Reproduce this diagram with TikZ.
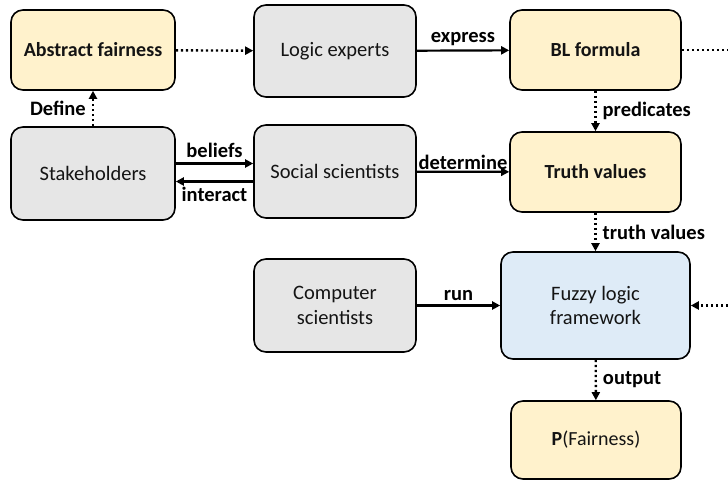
\documentclass[tikz,border=0pt]{standalone}
\usepackage{fontspec}
\setmainfont{Carlito}
\usetikzlibrary{arrows.meta}
\definecolor{conceptyellow}{HTML}{FFF2CC}
\definecolor{actorgray}{HTML}{E6E6E6}
\definecolor{engineblue}{HTML}{DEEBF7}

\begin{document}
\begin{tikzpicture}[
    x=1pt, y=-1pt,
    >={Triangle[length=8pt,width=8pt]},
    box/.style={draw, line width=1.6pt, rounded corners=12pt, align=center, text=black!92, font=\fontsize{20.5}{24.5}\selectfont, inner sep=2pt},
    actor/.style={box, fill=actorgray},
    concept/.style={box, fill=conceptyellow, font=\fontsize{20}{24}\selectfont\bfseries},
    flow/.style={->, line width=2.2pt},
    hint/.style={->, line width=2.4pt, dash pattern=on 2.4pt off 2.6pt},
    hintline/.style={line width=2.4pt, dash pattern=on 2.4pt off 2.6pt},
    lbl/.style={font=\fontsize{20.5}{24.5}\selectfont\bfseries, inner sep=3pt}
  ]
    \useasboundingbox (0,0) rectangle (728,480);

    % Column 1: Fairness definition
    \node[concept, minimum width=164pt, minimum height=80pt] (abs) at (93, 50) {Abstract fairness};
    \node[actor, minimum width=164pt, minimum height=93pt] (stake) at (93, 173.5) {Stakeholders};

    % Column 2: Experts
    \node[actor, minimum width=162pt, minimum height=92pt] (logic) at (335, 51) {Logic experts};
    \node[actor, minimum width=162pt, minimum height=93pt] (social) at (335, 171.5) {Social scientists};
    \node[actor, minimum width=162pt, minimum height=93pt] (comp) at (335, 305.5) {Computer\\scientists};

    % Column 3: Formula and evaluation
    \node[concept, minimum width=171pt, minimum height=80pt] (bl) at (595.5, 50) {BL formula};
    \node[concept, minimum width=171pt, minimum height=80pt] (truth) at (595.5, 172) {Truth values};
    \node[box, fill=engineblue, minimum width=189pt, minimum height=107pt] (fuzzy) at (595.5, 305.5) {Fuzzy logic\\framework};
    \node[concept, minimum width=170pt, minimum height=78pt] (prob) at (596, 440) {P{\mdseries(Fairness)}};

    % Loose ends at the right border
    \coordinate (blout) at (728, 50);
    \coordinate (fuzzyin) at (728, 305.5);

    % Connections
    \draw[hint] (stake) -- node[lbl, left, inner sep=6pt] {Define} (abs);
    \draw[hint] (abs) -- (logic);
    \draw[flow] (logic) -- node[lbl, above, inner sep=4pt] {express} (bl);
    \draw[hintline] (bl) -- (blout);
    \draw[flow] ([yshift=10pt]stake.east) -- node[lbl, above, inner sep=5pt] {beliefs} ([yshift=10pt]stake.east -| social.west);
    \draw[flow] ([yshift=-10pt]social.west) -- node[lbl, below, inner sep=5pt] {interact} ([yshift=-10pt]social.west -| stake.east);
    \draw[flow] (social) -- node[lbl, above, inner sep=1pt] {determine} (truth);
    \draw[hint] (bl) -- node[lbl, right, inner sep=6pt] {predicates} (truth);
    \draw[hint] (truth) -- node[lbl, right, inner sep=6pt] {truth values} (fuzzy);
    \draw[flow] (comp) -- node[lbl, above, inner sep=4pt] {run} (fuzzy);
    \draw[hint] (fuzzyin) -- (fuzzy);
    \draw[hint] (fuzzy) -- node[lbl, right, inner sep=6pt] {output} (prob);
  \end{tikzpicture}
\end{document}
